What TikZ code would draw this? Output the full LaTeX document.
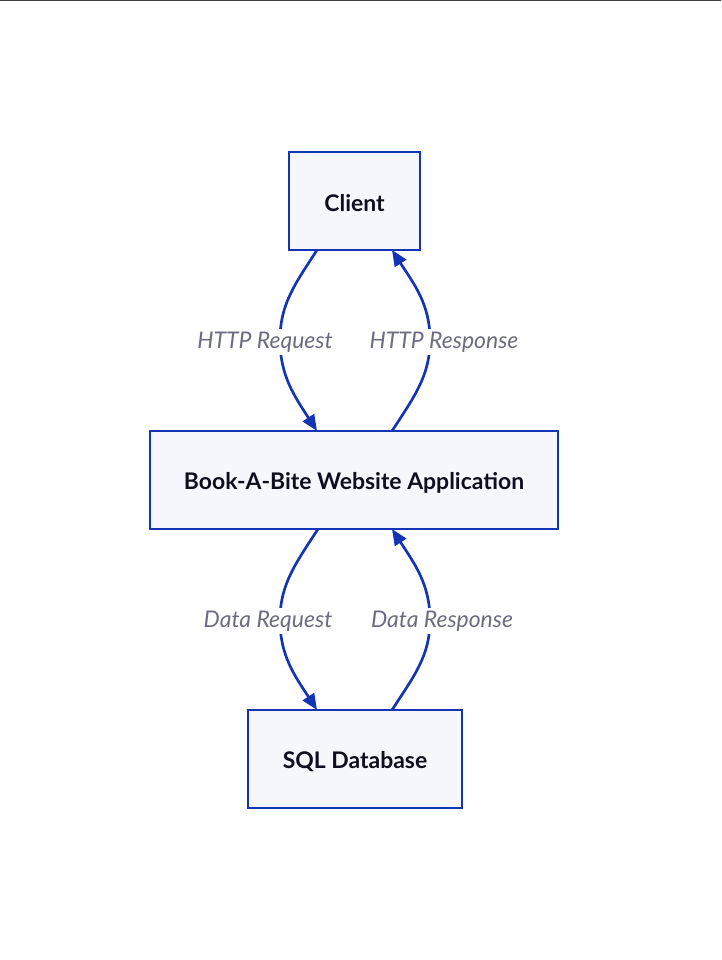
\documentclass[tikz,border=0pt]{standalone}
\usepackage{fontspec}
\setmainfont{Lato}
\usetikzlibrary{arrows.meta}
\definecolor{edgeblue}{RGB}{20,52,182}
\definecolor{boxfill}{RGB}{246,247,253}
\definecolor{lblgrey}{RGB}{108,108,128}
\definecolor{txtdark}{RGB}{14,14,30}
\newcommand{\lowered}[1]{\raisebox{-1.8pt}[\height][\depth]{#1}}
\begin{document}
\begin{tikzpicture}[x=0.75pt,y=-0.75pt,
  box/.style={draw=edgeblue,fill=boxfill,line width=2pt,inner sep=0pt,outer sep=0pt,
    font=\fontsize{17.2}{20}\selectfont\bfseries,text=txtdark,minimum height=73.5pt},
  flow/.style={draw=edgeblue,line width=2pt,-{Triangle[length=12pt,width=10pt]}},
  lbl/.style={fill=white,inner sep=2pt,font=\fontsize{17.2}{20}\selectfont\itshape,text=lblgrey}]
\useasboundingbox (0,0) rectangle (721,960);
\draw[line width=1pt,draw=black!75] (0,0.5) -- (721,0.5);
\node[box,minimum width=98.25pt] (client) at (354.5,201) {\lowered{Client}};
\node[box,minimum width=306pt] (app) at (354,480) {\lowered{Book-A-Bite Website Application}};
\node[box,minimum width=160.5pt] (db) at (355,759) {\lowered{SQL Database}};
% HTTP Request
\draw[flow] ([xshift=-28.1pt]client.south) .. controls +(-22,34) and +(0,-36) .. (280,340)
  .. controls +(0,36) and +(-22,-34) .. ([xshift=-27.75pt]app.north);
\node[lbl] (hqlbl) at (265,342) {HTTP Request};
% HTTP Response
\draw[flow] ([xshift=28.5pt]app.north) .. controls +(22,-34) and +(0,36) .. (430,340)
  .. controls +(0,-36) and +(22,34) .. ([xshift=28.1pt]client.south);
\node[lbl] (hrlbl) at (444,342) {HTTP Response};
% Data Request
\draw[flow] ([xshift=-27pt]app.south) .. controls +(-22,34) and +(0,-36) .. (280,620)
  .. controls +(0,36) and +(-22,-34) .. ([xshift=-28.5pt]db.north);
\node[lbl] (dqlbl) at (268,621) {Data Request};
% Data Response
\draw[flow] ([xshift=27.75pt]db.north) .. controls +(22,-34) and +(0,36) .. (430,620)
  .. controls +(0,-36) and +(22,34) .. ([xshift=28.5pt]app.south);
\node[lbl] (drlbl) at (442,621) {Data Response};
\end{tikzpicture}
\end{document}
